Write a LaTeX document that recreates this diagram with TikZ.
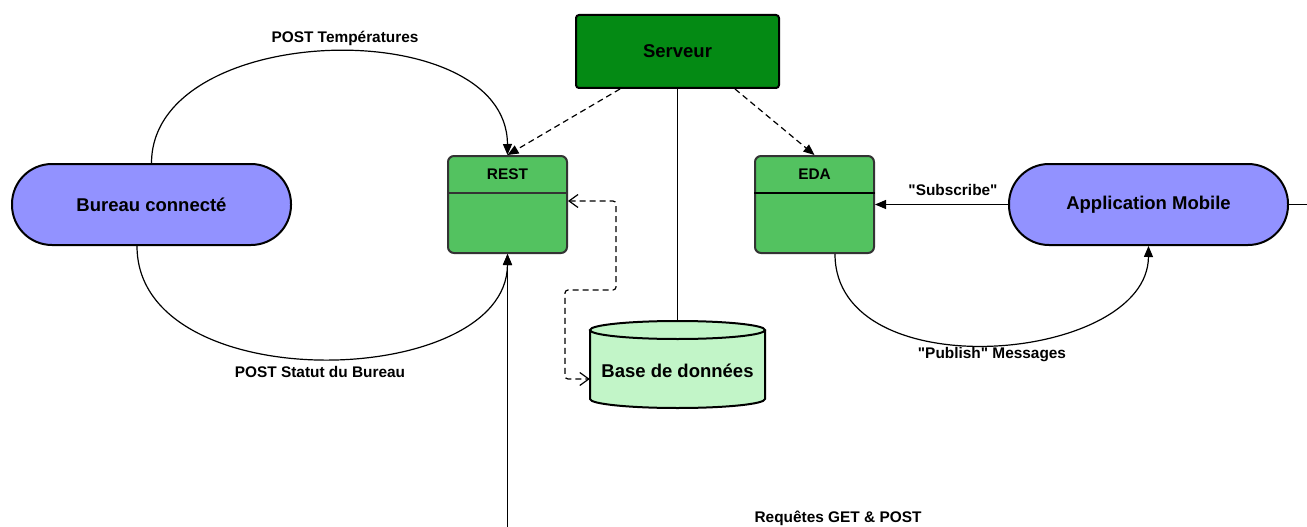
\documentclass[tikz,border=0pt]{standalone}
\usepackage{fontspec}
\setmainfont{Liberation Sans}[Ligatures=TeXOff]
\usetikzlibrary{arrows.meta}
\definecolor{srvgreen}{RGB}{4,138,20}
\definecolor{boxgreen}{RGB}{83,194,96}
\definecolor{purp}{RGB}{146,146,255}
\definecolor{dbgreen}{RGB}{194,245,200}
\definecolor{boxedge}{RGB}{51,51,51}
\tikzset{
  big/.style={font=\fontsize{18.5}{22}\selectfont\bfseries},
  small/.style={font=\fontsize{15.4}{18}\selectfont\bfseries},
  srvbox/.style={draw=black, line width=2pt, fill=srvgreen, rounded corners=3pt, minimum width=203pt, minimum height=73pt, inner sep=0pt},
  classbox/.style={draw=boxedge, line width=2pt, fill=boxgreen, rounded corners=6pt, minimum width=119pt, minimum height=97pt, inner sep=0pt},
  stadium/.style={draw=black, line width=2pt, fill=purp, rounded corners=40pt, minimum width=279pt, minimum height=81pt, inner sep=0pt},
  conn/.style={line width=1.2pt, -{Triangle[length=11pt,width=9pt]}},
  dconn/.style={conn, dash pattern=on 6pt off 4pt},
  openconn/.style={line width=1.2pt, dash pattern=on 6pt off 4pt, rounded corners=3pt, {Straight Barb[length=9pt,width=13pt]}-{Straight Barb[length=9pt,width=13pt]}},
  plain/.style={line width=1.2pt},
}
\begin{document}
\begin{tikzpicture}[x=1pt,y=-1pt]
\useasboundingbox (0,0) rectangle (1307,527);
% nodes
\node[srvbox, big] (srv) at (677.5,51.5) {Serveur};
\node[classbox] (rest) at (507.5,204.5) {};
\draw[boxedge, line width=2pt] ([yshift=-38pt]rest.north west) -- ([yshift=-38pt]rest.north east);
\node[small] (resth) at ([yshift=-19pt]rest.north) {REST};
\node[classbox] (eda) at (814.5,204.5) {};
\draw[black, line width=2pt] ([yshift=-38pt]eda.north west) -- ([yshift=-38pt]eda.north east);
\node[small] (edah) at ([yshift=-19pt]eda.north) {EDA};
\node[stadium, big] (bur) at (151.5,204.5) {Bureau connecté};
\node[stadium, big] (app) at (1148.5,204.5) {Application Mobile};
% database cylinder
\fill[dbgreen] (590,330) -- (590,399) arc[start angle=180,end angle=360,x radius=87.5pt,y radius=9pt] -- (765,330) arc[start angle=0,end angle=180,x radius=87.5pt,y radius=9pt] -- cycle;
\draw[line width=2pt] (590,330) -- (590,399) arc[start angle=180,end angle=360,x radius=87.5pt,y radius=9pt] -- (765,330);
\draw[line width=2pt, fill=dbgreen] (677.5,330) ellipse[x radius=87.5pt,y radius=9pt];
\node[big, minimum width=175pt, minimum height=87pt, inner sep=0pt] (db) at (677.5,364.5) {};
\node[big] (dbt) at (677.5,371) {Base de données};
\coordinate (dbtop) at (677.5,321);
% labels
\node[small] (l1) at (345,38) {POST Températures};
\node[small] (l2) at (320,372) {POST Statut du Bureau};
\node[small] (l3) at (953,190) {"Subscribe"};
\node[small] (l4) at (992,355) {"Publish" Messages};
\node[small] (l5) at (838,518) {Requêtes GET \& POST};
% connectors
\draw[dconn] ([xshift=-57.5pt]srv.south) -- (rest.north);
\draw[dconn] ([xshift=57.5pt]srv.south) -- (eda.north);
\draw[plain] (srv.south) -- (dbtop);
\draw[conn] (bur.north) .. controls (152,20) and (507,12) .. (rest.north);
\draw[conn] ([xshift=-14.5pt]bur.south) .. controls (137,400) and (507,390) .. (rest.south);
\coordinate (req) at (507.5,527);
\draw[conn] (req) -- (rest.south);
\draw[openconn] ([yshift=3.5pt]rest.east) -- (616,201) -- (616,290) -- (565,290) -- (565,379) -- (db.west |- 0,379);
\draw[conn] (app.west) -- (eda.east);
\draw[conn] ([xshift=20.5pt]eda.south) .. controls (835,390) and (1148,363) .. (app.south);
\coordinate (appr) at (1307,204.5);
\draw[plain] (app.east) -- (appr);
\end{tikzpicture}
\end{document}
